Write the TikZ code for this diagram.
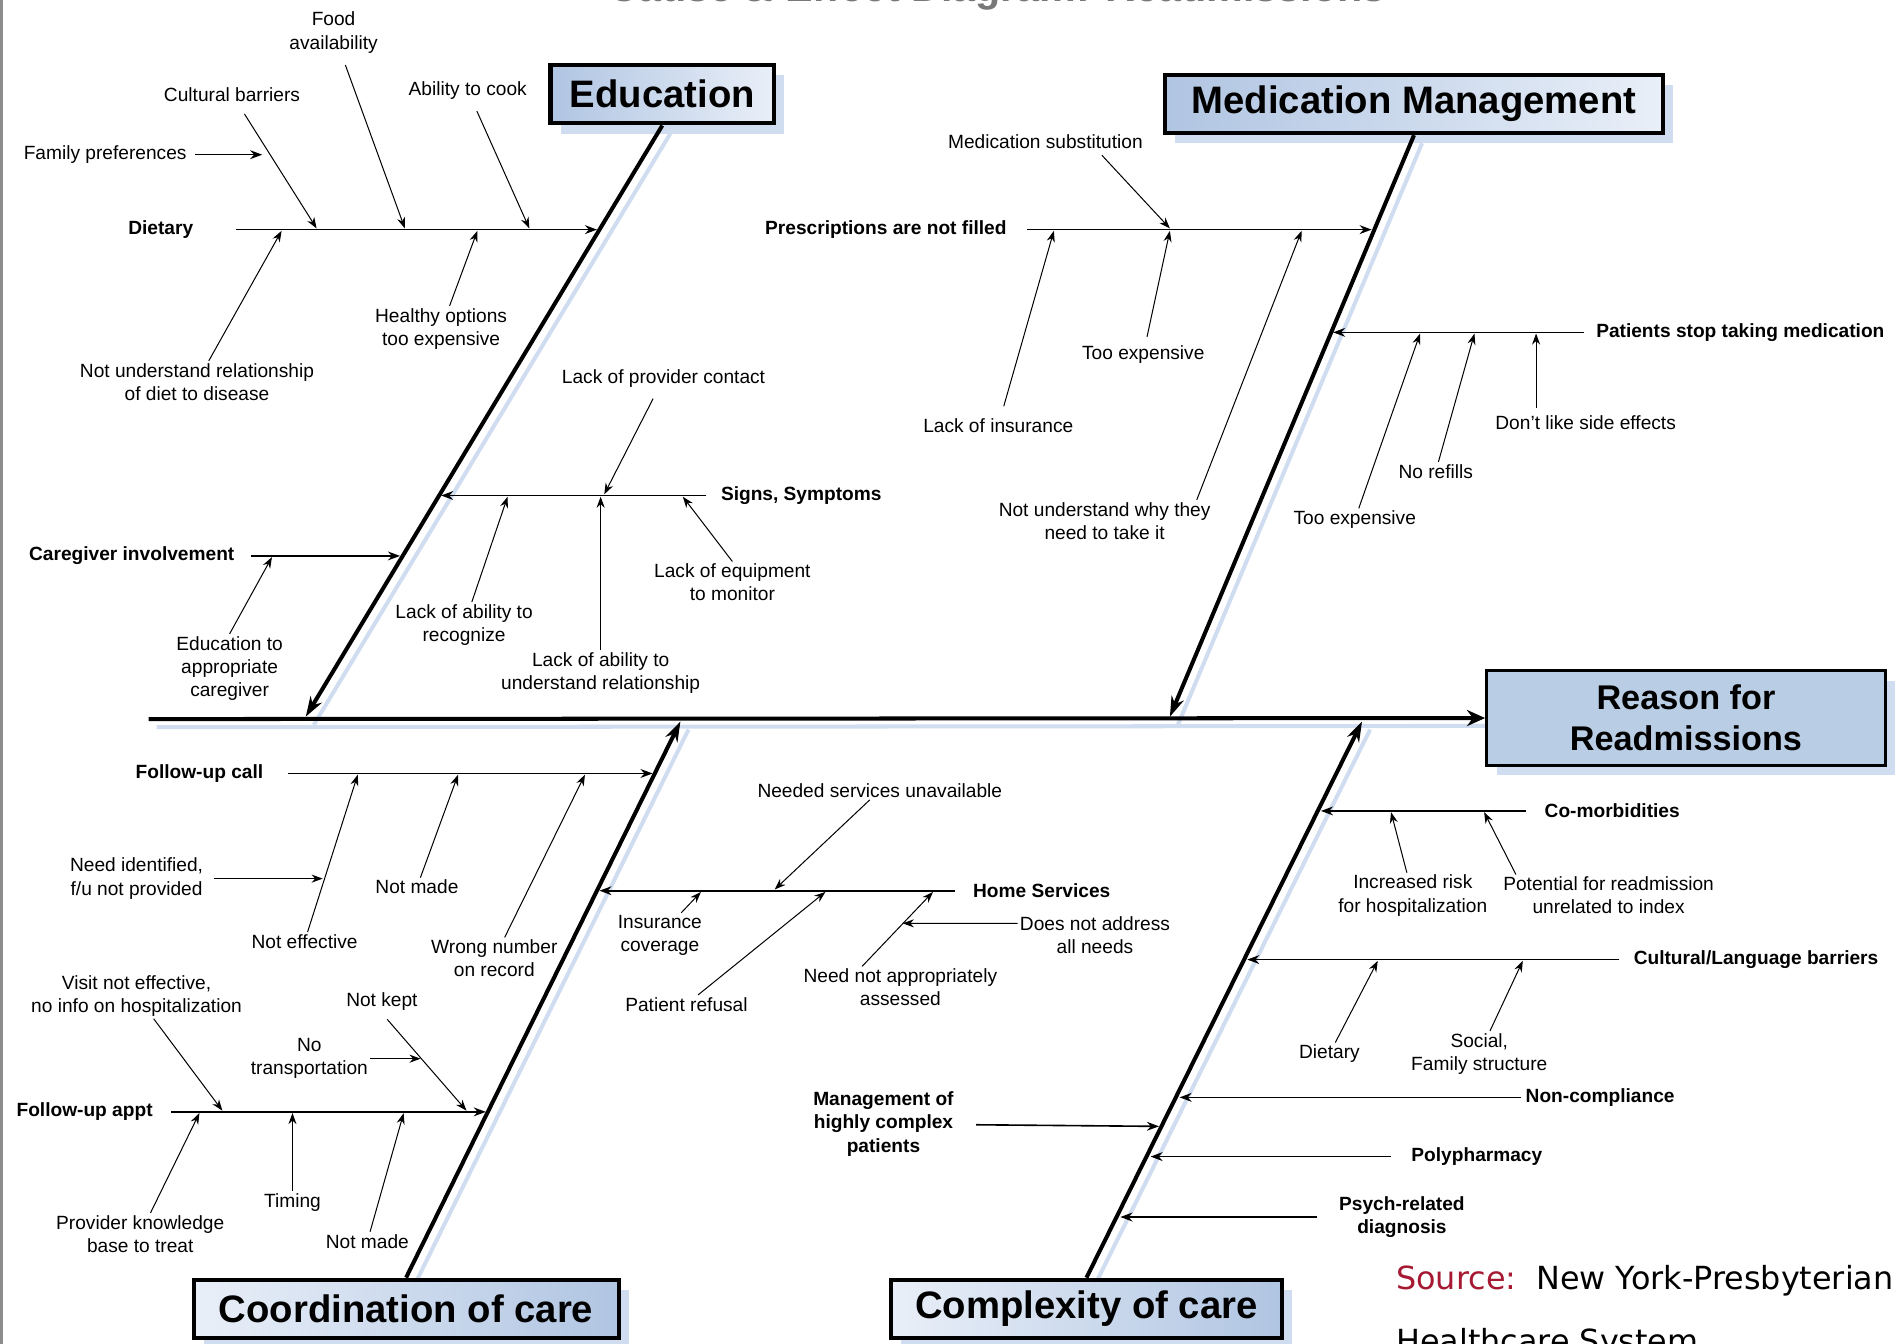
\documentclass[tikz,border=0pt]{standalone}
\usepackage{fontspec}
\setmainfont{Liberation Sans}
\newfontfamily\srcfont{DejaVu Sans}
\usepackage{tikz}
\usetikzlibrary{arrows.meta,positioning,shadows,backgrounds}
\definecolor{boxdark}{RGB}{176,197,226}
\definecolor{boxlight}{RGB}{233,239,248}
\definecolor{effectfill}{RGB}{185,205,229}
\definecolor{shade}{RGB}{208,221,240}
\definecolor{srcred}{RGB}{165,25,50}
\definecolor{titlegray}{RGB}{120,120,120}
\definecolor{bordergray}{RGB}{140,140,140}

\begin{document}
\begin{tikzpicture}
[->, >={Stealth[length=5.5pt,width=4pt]}, x=0.6pt, y=-0.6pt,
every node/.style={font=\fontsize{9.5}{11.5}\selectfont, align=center, inner sep=1pt},
head/.style={font=\fontsize{9.5}{11.5}\selectfont\bfseries},
catbox/.style={draw, line width=2pt, inner sep=0pt, minimum height=29pt,
  font=\fontsize{19}{22}\selectfont\bfseries,
  drop shadow={shadow xshift=5pt, shadow yshift=-5pt, fill=shade, opacity=1}},
bone/.style={line width=2pt, >={Stealth[length=10pt,width=6.5pt]}},
branch/.style={line width=0.8pt, >={Stealth[length=6pt,width=4.4pt]}},
sub/.style={line width=0.5pt},
shadowline/.style={-, line width=2pt, draw=shade, transform canvas={shift={(4pt,-4pt)}}}
]
  \useasboundingbox (0,0) rectangle (1568,1112);
  \draw[-, line width=1.5pt, draw=bordergray] (1.2,0) -- (1.2,1112);

  \node[font=\fontsize{20.5}{24}\selectfont\bfseries, text=titlegray, anchor=base] (title) at (825,1) {Cause \& Effect Diagram: Readmissions};

  \node[catbox, left color=boxdark, right color=boxlight, minimum width=111pt] (edu) at (548,78) {Education};
  \node[catbox, left color=boxdark, right color=boxlight, minimum width=247pt] (med) at (1170,86) {Medication Management};
  \node[catbox, left color=boxlight, right color=boxdark, minimum width=211pt] (coord) at (336,1083) {Coordination of care};
  \node[catbox, left color=boxlight, right color=boxdark, minimum width=194pt] (cplx) at (899,1083) {Complexity of care};
  \node[catbox, fill=effectfill, line width=1.4pt, minimum width=198pt, minimum height=47pt,
    font=\fontsize{17}{20}\selectfont\bfseries] (reason) at (1395,594) {Reason for\\Readmissions};

  \coordinate (tail) at (123,595);
  \coordinate (eduE) at (253,593);
  \coordinate (medE) at (968,593);
  \coordinate (coordE) at (563,597);
  \coordinate (cplxE) at (1127,597);

  \begin{scope}[on background layer]
    \draw[shadowline] (tail) -- (reason.west);
    \draw[shadowline] (edu.south) -- (eduE);
    \draw[shadowline] (med.south) -- (medE);
    \draw[shadowline] (coord.north) -- (coordE);
    \draw[shadowline] (cplx.north) -- (cplxE);
  \end{scope}

  \node[head] (diet) at (133,190) {Dietary};
  \node (fam) at (87,128) {Family preferences};
  \node (cult) at (192,78) {Cultural barriers};
  \node (food) at (276,27) {Food\\availability};
  \node (cook) at (387,75) {Ability to cook};
  \node (hlth) at (365,272) {Healthy options\\too expensive};
  \node (ndiet) at (163,316) {Not understand relationship\\of diet to disease};
  \node[head] (sign) at (663,410) {Signs, Symptoms};
  \node (prov) at (549,313) {Lack of provider contact};
  \node (recog) at (384,517) {Lack of ability to\\recognize};
  \node (undr) at (497,557) {Lack of ability to\\understand relationship};
  \node (equip) at (606,482) {Lack of equipment\\to monitor};
  \node[head] (care) at (109,460) {Caregiver involvement};
  \node (edcg) at (190,553) {Education to\\appropriate\\caregiver};

  \coordinate (dietE) at (494,190);
  \coordinate (famE) at (217,128);
  \coordinate (cultE) at (262,189);
  \coordinate (foodE) at (335,189);
  \coordinate (cookE) at (438,189);
  \coordinate (hlthE) at (395,191);
  \coordinate (ndietE) at (233,191);
  \coordinate (signE) at (365,410);
  \coordinate (provE) at (500,409);
  \coordinate (recogE) at (420,411);
  \coordinate (undrE) at (497,411);
  \coordinate (equipE) at (565,411);
  \coordinate (careE) at (331,460);
  \coordinate (edcgE) at (225,461);

  \node[head] (presc) at (733,190) {Prescriptions are not filled};
  \node (msub) at (865,117) {Medication substitution};
  \node (lins) at (826,352) {Lack of insurance};
  \node (texpa) at (946,293) {Too expensive};
  \node (nund) at (914,431) {Not understand why they\\need to take it};
  \node[head] (pstop) at (1440,275) {Patients stop taking medication};
  \node (side) at (1312,350) {Don't like side effects};
  \node (refl) at (1188,390) {No refills};
  \node (texpb) at (1121,430) {Too expensive};

  \coordinate (prescE) at (1135,190);
  \coordinate (msubE) at (968,189);
  \coordinate (linsE) at (872,191);
  \coordinate (texpaE) at (968,191);
  \coordinate (nundE) at (1077,191);
  \coordinate (pstopE) at (1103,275);
  \coordinate (sideE) at (1271,276);
  \coordinate (reflE) at (1220,276);
  \coordinate (texpbE) at (1175,276);

  \node[head] (fcall) at (165,640) {Follow-up call};
  \node (needid) at (113,727) {Need identified,\\f/u not provided};
  \node (neff) at (252,779) {Not effective};
  \node (nmadea) at (345,734) {Not made};
  \node (wrong) at (409,793) {Wrong number\\on record};
  \node[head] (fappt) at (70,920) {Follow-up appt};
  \node (visit) at (113,824) {Visit not effective,\\no info on hospitalization};
  \node (ntrans) at (256,876) {No\\transportation};
  \node (nkept) at (316,829) {Not kept};
  \node (pknow) at (116,1021) {Provider knowledge\\base to treat};
  \node (timing) at (242,995) {Timing};
  \node (nmadeb) at (304,1027) {Not made};
  \node[head] (home) at (862,737) {Home Services};
  \node (nsvc) at (728,654) {Needed services unavailable};
  \node (insc) at (546,774) {Insurance\\coverage};
  \node (pref) at (568,831) {Patient refusal};
  \node (nasd) at (745,817) {Need not appropriately\\assessed};
  \node (dnad) at (906,774) {Does not address\\all needs};

  \coordinate (fcallE) at (540,640);
  \coordinate (needidE) at (267,727);
  \coordinate (neffE) at (296,641);
  \coordinate (nmadeaE) at (379,641);
  \coordinate (wrongE) at (484,641);
  \coordinate (fapptE) at (402,920);
  \coordinate (visitE) at (184,919);
  \coordinate (ntransE) at (348,876);
  \coordinate (nkeptE) at (386,919);
  \coordinate (pknowE) at (165,921);
  \coordinate (timingE) at (242,921);
  \coordinate (nmadebE) at (334,921);
  \coordinate (homeE) at (496,737);
  \coordinate (nsvcE) at (641,736);
  \coordinate (inscE) at (580,738);
  \coordinate (prefE) at (683,738);
  \coordinate (nasdE) at (772,738);
  \coordinate (dnadE) at (747,764);

  \node[head] (comor) at (1334,671) {Co-morbidities};
  \node (irisk) at (1169,741) {Increased risk\\for hospitalization};
  \node (potr) at (1331,741) {Potential for readmission\\unrelated to index};
  \node[head] (cultl) at (1453,794) {Cultural/Language barriers};
  \node (cdiet) at (1100,872) {Dietary};
  \node (social) at (1224,872) {Social,\\Family structure};
  \node[head] (noncomp) at (1324,908) {Non-compliance};
  \node[head] (mgmt) at (731,930) {Management of\\highly complex\\patients};
  \node[head] (poly) at (1222,957) {Polypharmacy};
  \node[head] (psych) at (1160,1007) {Psych-related\\diagnosis};

  \coordinate (comorE) at (1093,671);
  \coordinate (iriskE) at (1151,672);
  \coordinate (potrE) at (1228,672);
  \coordinate (cultlE) at (1032,794);
  \coordinate (cdietE) at (1140,795);
  \coordinate (socialE) at (1260,795);
  \coordinate (noncompE) at (976,908);
  \coordinate (mgmtE) at (959,932);
  \coordinate (polyE) at (952,957);
  \coordinate (psychE) at (927,1007);

  \node[anchor=base west, inner sep=0pt, font=\srcfont\fontsize{15.8}{18}\selectfont] (src) at (1155,1067)
    {\textcolor{srcred}{Source:}\hspace{10pt}New York-Presbyterian};
  \node[anchor=base west, inner sep=0pt, font=\srcfont\fontsize{15.8}{18}\selectfont] (srcb) at (1155,1119)
    {Healthcare System};

  \path
    (tail) edge[bone, >={Stealth[length=9pt,width=8pt]}] (reason)
    (edu.south) edge[bone] (eduE)
    (med.south) edge[bone] (medE)
    (coord.north) edge[bone] (coordE)
    (cplx.north) edge[bone] (cplxE)
    ;

  \path
    (diet) edge[branch, shorten <=20pt] (dietE)
    (fam) edge[branch, shorten <=3pt] (famE)
    (cult) edge[sub, shorten <=6pt] (cultE)
    (food) edge[sub, shorten <=5pt] (foodE)
    (cook) edge[sub, shorten <=5pt] (cookE)
    (hlth) edge[sub] (hlthE)
    (ndiet) edge[sub] (ndietE)
    (sign) edge[branch, shorten <=6pt] (signE)
    (prov) edge[sub, shorten <=5pt] (provE)
    (recog) edge[sub] (recogE)
    (undr) edge[sub] (undrE)
    (equip.north) edge[sub] (equipE)
    (care) edge[branch, shorten <=7pt] (careE)
    (edcg.north) edge[sub] (edcgE)
    ;

  \path
    (presc) edge[branch, shorten <=9pt] (prescE)
    ([xshift=26pt]msub.south) edge[sub, shorten <=3pt] (msubE)
    (lins) edge[sub, shorten <=5pt] (linsE)
    (texpa) edge[sub, shorten <=3pt] (texpaE)
    ([xshift=-8pt]nund.north east) edge[sub] (nundE)
    (pstop) edge[branch, shorten <=5pt] (pstopE)
    (sideE |- side.north) edge[sub, shorten <=3pt] (sideE)
    (refl) edge[sub] (reflE)
    (texpb) edge[sub] (texpbE)
    ;

  \path
    (fcall) edge[branch, shorten <=11pt] (fcallE)
    (needid) edge[sub, shorten <=4pt] (needidE)
    (neff) edge[sub] (neffE)
    (nmadea) edge[sub] (nmadeaE)
    (wrong) edge[sub] (wrongE)
    (fappt) edge[branch, shorten <=8pt] (fapptE)
    (visit) edge[sub] (visitE)
    (ntrans) edge[sub] (ntransE)
    (nkept.south) edge[sub, shorten <=4pt] (nkeptE)
    (pknow) edge[sub] (pknowE)
    (timingE |- timing.north) edge[sub] (timingE)
    (nmadeb) edge[sub] (nmadebE)
    (home) edge[branch, shorten <=8pt] (homeE)
    (nsvc) edge[sub] (nsvcE)
    (insc) edge[sub] (inscE)
    (pref) edge[sub] (prefE)
    ([xshift=-19pt]nasd.north) edge[sub] (nasdE)
    ([yshift=6pt]dnad.west) edge[sub] (dnadE)
    ;

  \path
    (comor) edge[branch, shorten <=8pt] (comorE)
    (irisk) edge[sub] (iriskE)
    ([xshift=-46pt]potr.north) edge[sub] (potrE)
    (cultl) edge[branch, shorten <=6pt] (cultlE)
    (cdiet) edge[sub] (cdietE)
    (social) edge[sub] (socialE)
    (noncomp) edge[branch, shorten <=1pt] (noncompE)
    (mgmt) edge[branch, shorten <=10pt] (mgmtE)
    (poly) edge[branch, shorten <=9pt] (polyE)
    (psych) edge[branch, shorten <=10pt] (psychE)
    ;
\end{tikzpicture}
\end{document}
